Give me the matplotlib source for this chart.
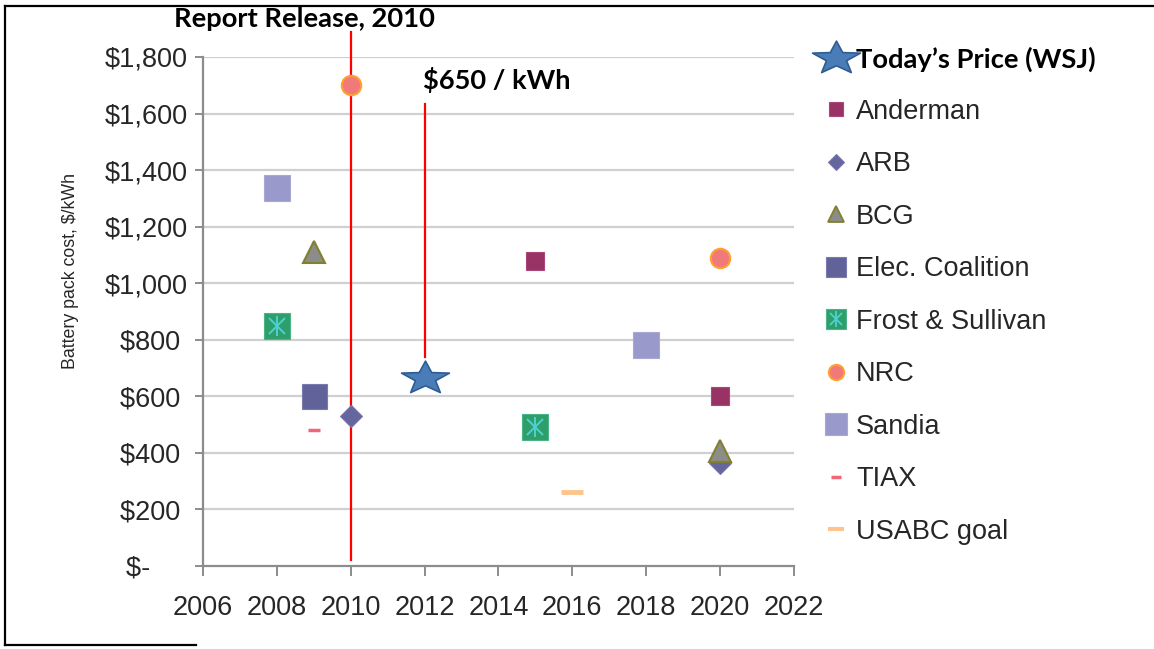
import numpy as np
import matplotlib
matplotlib.use("Agg")
import matplotlib.pyplot as plt
from matplotlib.lines import Line2D
from matplotlib.path import Path

plt.rcParams['font.family'] = ['Liberation Sans', 'DejaVu Sans']

# data ($/kWh by year)
star_x, star_y = [2012], [665]
anderman_x, anderman_y = [2015, 2020], [1080, 600]
arb_x, arb_y = [2010, 2020], [530, 365]
bcg_x, bcg_y = [2009, 2020], [1110, 405]
elec_x, elec_y = [2009], [600]
frost_x, frost_y = [2008, 2015], [850, 490]
nrc_x, nrc_y = [2010, 2020], [1700, 1090]
sandia_x, sandia_y = [2008, 2018], [1335, 780]
tiax_x, tiax_y = [2009], [480]
usabc_x, usabc_y = [2016], [260]

labels = ["Today\u2019s Price (WSJ)", "Anderman", "ARB", "BCG", "Elec. Coalition",
          "Frost & Sullivan", "NRC", "Sandia", "TIAX", "USABC goal"]
xticks = [2006, 2008, 2010, 2012, 2014, 2016, 2018, 2020, 2022]
yticks = [0, 200, 400, 600, 800, 1000, 1200, 1400, 1600, 1800]
ytick_labels = ["$-     ", "$200 ", "$400 ", "$600 ", "$800 ", "$1,000", "$1,200",
                "$1,400", "$1,600", "$1,800"]

release_year = 2010
release_span = [20, 1890]
today_line = [738, 1632]

# wide 5-point star like the excel one
ang = np.deg2rad(90 + 36 * np.arange(10))
rad = np.where(np.arange(10) % 2 == 0, 1.0, 0.42)
verts = np.column_stack([1.45 * rad * np.cos(ang), rad * np.sin(ang)])
verts = np.vstack([verts, verts[:1]])
star = Path(verts, closed=True)

fig = plt.figure(figsize=(11.54, 6.49), dpi=100)
ax = fig.add_axes([0.1759, 0.1279, 0.5121, 0.7843])

gc = '#d0d0d0'
for v in yticks[1:]:
    ax.axhline(v, color=gc, lw=1.6, zorder=0)

tc = '#262626'
ax.plot([release_year, release_year], release_span, color='#ff0000', lw=1.6,
        clip_on=False, zorder=2)
ax.plot([star_x[0], star_x[0]], today_line, color='#ff0000', lw=1.6, zorder=2)

ax.plot(anderman_x, anderman_y, 's', ms=13.5, mfc='#993366', mec='#a8487a', mew=0.8, zorder=3)
ax.plot(arb_x, arb_y, 'D', ms=11, mfc='#66669e', mec='#7777aa', mew=0.8, zorder=3)
ax.plot(bcg_x, bcg_y, '^', ms=16, mfc='#8c8c88', mec='#80802e', mew=1.5, zorder=3)
ax.plot(elec_x, elec_y, 's', ms=18, mfc='#62629a', mec='#7a7aae', mew=0.8, zorder=3)
ax.plot(frost_x, frost_y, 's', ms=18.5, mfc='#2e9e6b', mec='#4ab487', mew=0.8, zorder=3)
ax.plot(frost_x, frost_y, 'x', ms=11, mec='#4fd0d0', mew=1.4, zorder=3)
ax.plot(frost_x, frost_y, '|', ms=15, mec='#4fd0d0', mew=1.4, zorder=3)
ax.plot(nrc_x, nrc_y, 'o', ms=14, mfc='#f07a7a', mec='#ffa030', mew=1.5, zorder=3)
ax.plot(sandia_x, sandia_y, 's', ms=18.5, mfc='#9999cc', mec='#a8a8d4', mew=0.8, zorder=3)
ax.plot(tiax_x, tiax_y, '_', ms=8.5, mec='#ee6677', mew=2.5, zorder=3)
ax.plot(usabc_x, usabc_y, '_', ms=15.5, mec='#ffc48c', mew=3.5, zorder=3)
ax.plot(star_x, star_y, marker=star, ms=34.5, ls='none', mfc='#4a7cb8', mec='#2d5d91',
        mew=1.2, zorder=4)

ax.set_xlim(2006, 2022)
ax.set_ylim(0, 1800)
ax.set_xticks(xticks)
ax.set_yticks(yticks)
ax.set_yticklabels(ytick_labels)
for s in ['top', 'right']:
    ax.spines[s].set_visible(False)
for s in ['left', 'bottom']:
    ax.spines[s].set_color('#8c8c8c')
    ax.spines[s].set_linewidth(1.6)
ax.tick_params(axis='y', length=6, width=1.4, color='#8c8c8c', pad=5, labelsize=19.5,
               labelcolor=tc)
ax.tick_params(axis='x', length=7, width=1.4, color='#8c8c8c', pad=14, labelsize=19.5,
               labelcolor=tc)
ax.set_ylabel("Battery pack cost, $/kWh", fontsize=12.8, color=tc)
ax.yaxis.set_label_coords(-0.21, 0.58)

ax.text(2008.76, 1936, "Report Release, 2010", fontfamily='Lato', fontweight='bold',
        fontsize=19.7, ha='center', va='center', clip_on=False)
ax.text(2011.95, 1717, "$650 / kWh", fontfamily='Lato', fontweight='bold',
        fontsize=19.6, ha='left', va='center')

# legend proxies, sized like the legend glyphs
def proxy(**kw):
    return Line2D([], [], ls='none', **kw)

frost_h = (proxy(marker='s', ms=15, mfc='#2e9e6b', mec='#4ab487', mew=0.8),
           proxy(marker='x', ms=9, mec='#4fd0d0', mew=1.3),
           proxy(marker='|', ms=12, mec='#4fd0d0', mew=1.3))
handles = [
    proxy(marker=star, ms=34.5, mfc='#4a7cb8', mec='#2d5d91', mew=1.2),
    proxy(marker='s', ms=10.5, mfc='#993366', mec='#a8487a', mew=0.8),
    proxy(marker='D', ms=8.5, mfc='#66669e', mec='#7777aa', mew=0.8),
    proxy(marker='^', ms=11, mfc='#8c8c88', mec='#80802e', mew=1.3),
    proxy(marker='s', ms=15, mfc='#62629a', mec='#7a7aae', mew=0.8),
    frost_h,
    proxy(marker='o', ms=11, mfc='#f07a7a', mec='#ffa030', mew=1.5),
    proxy(marker='s', ms=15.5, mfc='#9999cc', mec='#a8a8d4', mew=0.8),
    proxy(marker='_', ms=6.5, mec='#ee6677', mew=2.5),
    proxy(marker='_', ms=12, mec='#ffc48c', mew=3),
]
leg = ax.legend(handles, labels, loc='upper left', bbox_to_anchor=(0.7125, 0.928),
                bbox_transform=fig.transFigure, frameon=False, fontsize=19.5,
                borderpad=0, borderaxespad=0, handlelength=1.0, handletextpad=0.25,
                labelspacing=0.98)
for t in leg.get_texts():
    t.set_color(tc)
t0 = leg.get_texts()[0]
t0.set_fontfamily('Lato')
t0.set_fontweight('bold')
t0.set_fontsize(19.7)
t0.set_color('black')

# page frame
fig.add_artist(Line2D([0.0045, 0.0045], [0.006, 0.991], color='black', lw=1.6))
fig.add_artist(Line2D([0.0045, 1.0], [0.991, 0.991], color='black', lw=1.6))
fig.add_artist(Line2D([0.0045, 0.17], [0.006, 0.006], color='black', lw=1.6))

fig.savefig("out.png", dpi=100)
